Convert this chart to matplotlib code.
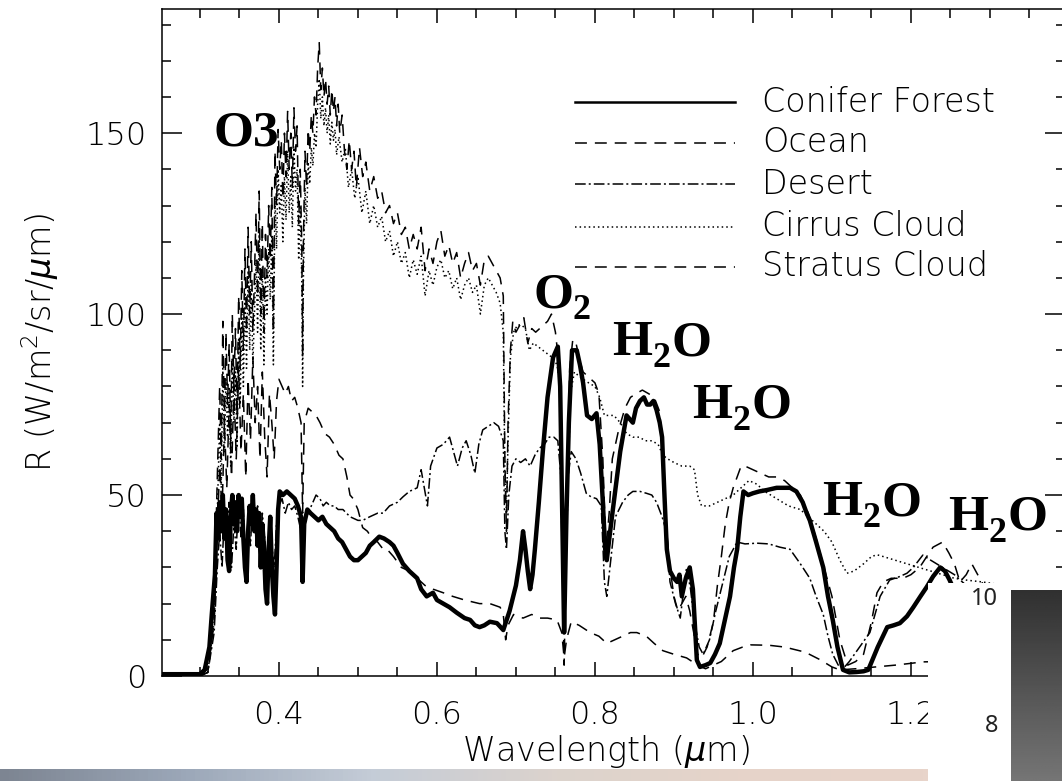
import numpy as np
import matplotlib
matplotlib.use('Agg')
import matplotlib.pyplot as plt
from matplotlib.patches import Rectangle
from matplotlib.lines import Line2D
from matplotlib.colors import LinearSegmentedColormap

plt.rcParams['font.family'] = ['DejaVu Sans']
plt.rcParams['font.weight'] = 'light'

# ---- values: (wavelength um, R W/m2/sr/um) ----
conifer = [
    (0.252, 0.5), (0.300, 0.5), (0.306, 1.7), (0.312, 8), (0.315, 17), (0.319, 28), (0.321, 45),
    (0.323, 38), (0.325, 48), (0.327, 40), (0.329, 50), (0.331, 38), (0.333, 46), (0.335, 32),
    (0.337, 29), (0.339, 44), (0.341, 50), (0.343, 42), (0.345, 48), (0.347, 40), (0.349, 50),
    (0.351, 44), (0.353, 49), (0.355, 38), (0.357, 30), (0.359, 26), (0.361, 40), (0.363, 47),
    (0.365, 42), (0.367, 50), (0.369, 40), (0.371, 46), (0.373, 36), (0.375, 45), (0.377, 30),
    (0.379, 42), (0.381, 36), (0.383, 24), (0.385, 20), (0.387, 35), (0.389, 44), (0.391, 30),
    (0.393, 22), (0.395, 17), (0.397, 30), (0.399, 46), (0.401, 51), (0.405, 50), (0.410, 51),
    (0.415, 50), (0.420, 49), (0.424, 47), (0.428, 44), (0.430, 26), (0.432, 42), (0.436, 46),
    (0.440, 45), (0.445, 44), (0.450, 43), (0.455, 44), (0.460, 42), (0.465, 41), (0.470, 40),
    (0.475, 38), (0.480, 37), (0.485, 35), (0.490, 33), (0.495, 32), (0.500, 32), (0.505, 33),
    (0.510, 34), (0.515, 36), (0.520, 37), (0.527, 38.5), (0.533, 38), (0.540, 37), (0.545, 36),
    (0.550, 34), (0.557, 31), (0.565, 29), (0.575, 27), (0.580, 24), (0.587, 22), (0.595, 23),
    (0.600, 21), (0.608, 20), (0.616, 19), (0.625, 17.5), (0.635, 16), (0.642, 15.5), (0.648, 14),
    (0.654, 13.5), (0.660, 14), (0.667, 15), (0.676, 14.6), (0.684, 12.7), (0.692, 18), (0.700, 25),
    (0.705, 32), (0.709, 40), (0.712, 35), (0.715, 29), (0.718, 24), (0.721, 28), (0.724, 35),
    (0.729, 48), (0.734, 62), (0.740, 77), (0.747, 88), (0.753, 91), (0.756, 80), (0.758, 53),
    (0.761, 12), (0.764, 45), (0.767, 70), (0.771, 90), (0.777, 90), (0.781, 86), (0.785, 81),
    (0.790, 72), (0.796, 71), (0.802, 72.6), (0.806, 64), (0.810, 48), (0.813, 35), (0.815, 32),
    (0.819, 39.5), (0.825, 50), (0.832, 62), (0.840, 72), (0.848, 70), (0.852, 74), (0.857, 76),
    (0.862, 77), (0.866, 75), (0.870, 75), (0.874, 76), (0.878, 73.5), (0.882, 70), (0.885, 66),
    (0.888, 50), (0.891, 35), (0.895, 29), (0.900, 27), (0.904, 26), (0.907, 28), (0.910, 22),
    (0.915, 27), (0.920, 30), (0.924, 24), (0.927, 12), (0.929, 4.4), (0.933, 2.5), (0.940, 3),
    (0.946, 3.6), (0.952, 6), (0.958, 9), (0.965, 16), (0.971, 22), (0.976, 30), (0.980, 35),
    (0.984, 44), (0.988, 51), (0.994, 50), (1.000, 50.5), (1.008, 51), (1.018, 51.4), (1.030, 52),
    (1.040, 52), (1.047, 52), (1.055, 51), (1.063, 48), (1.068, 45), (1.072, 43), (1.080, 37),
    (1.089, 30), (1.095, 22), (1.101, 15.5), (1.107, 8), (1.114, 1.7), (1.122, 1.0), (1.131, 1.1),
    (1.140, 1.3), (1.146, 1.7), (1.158, 8), (1.170, 13.5), (1.178, 14), (1.186, 14.6), (1.195, 16.5),
    (1.203, 19), (1.212, 22), (1.220, 24.6), (1.228, 27.5), (1.237, 30), (1.243, 29), (1.249, 26.5),
    (1.258, 22), (1.270, 18), (1.300, 15), (1.395, 15)]

ocean = [
    (0.252, 0), (0.300, 0), (0.310, 1), (0.318, 15), (0.322, 40), (0.325, 58), (0.328, 45),
    (0.331, 70), (0.334, 52), (0.337, 75), (0.340, 55), (0.343, 80), (0.346, 60), (0.349, 85),
    (0.352, 62), (0.355, 78), (0.358, 55), (0.361, 82), (0.364, 65), (0.367, 88), (0.370, 70),
    (0.373, 80), (0.376, 60), (0.379, 84), (0.382, 66), (0.385, 55), (0.388, 78), (0.391, 70),
    (0.394, 60), (0.397, 76), (0.400, 82), (0.404, 80), (0.408, 78), (0.412, 80), (0.416, 76),
    (0.420, 77), (0.424, 74), (0.428, 70), (0.430, 45), (0.432, 70), (0.437, 74), (0.442, 73),
    (0.447, 72), (0.452, 70), (0.458, 67), (0.464, 66), (0.470, 64), (0.476, 61), (0.481, 60),
    (0.486, 55), (0.490, 50), (0.494, 49), (0.500, 46), (0.506, 41), (0.512, 40), (0.518, 38),
    (0.525, 37), (0.532, 35), (0.537, 35), (0.545, 33), (0.555, 30), (0.565, 29), (0.575, 27),
    (0.585, 25), (0.595, 24), (0.608, 23), (0.620, 22), (0.635, 21), (0.654, 20), (0.667, 20),
    (0.680, 19), (0.684, 17), (0.687, 10), (0.690, 14), (0.697, 17), (0.709, 16), (0.720, 17),
    (0.730, 16), (0.740, 16), (0.752, 15.5), (0.758, 12), (0.761, 5), (0.764, 10), (0.770, 15),
    (0.780, 14), (0.794, 12), (0.805, 11), (0.815, 9), (0.825, 10), (0.835, 11), (0.845, 12),
    (0.853, 12), (0.865, 11), (0.875, 9), (0.886, 7), (0.900, 6), (0.916, 5), (0.930, 3),
    (0.940, 2), (0.950, 3), (0.960, 4), (0.975, 7), (0.987, 8), (0.997, 8.6), (1.020, 8.5),
    (1.040, 8), (1.066, 6.6), (1.085, 4.5), (1.100, 2.5), (1.110, 1.7), (1.130, 2), (1.155, 2.5),
    (1.180, 3), (1.200, 3.5), (1.215, 3.9), (1.240, 4), (1.300, 3), (1.395, 2)]

desert = [
    (0.252, 0), (0.300, 0), (0.310, 1), (0.318, 12), (0.322, 30), (0.325, 40), (0.328, 30),
    (0.331, 45), (0.334, 35), (0.337, 48), (0.340, 30), (0.343, 42), (0.346, 35), (0.349, 50),
    (0.352, 38), (0.355, 46), (0.358, 30), (0.361, 44), (0.364, 36), (0.367, 50), (0.370, 40),
    (0.373, 47), (0.376, 33), (0.379, 45), (0.382, 38), (0.385, 28), (0.388, 44), (0.391, 36),
    (0.394, 30), (0.397, 42), (0.400, 47), (0.404, 49), (0.408, 45), (0.412, 48), (0.416, 46),
    (0.420, 47), (0.424, 44), (0.428, 40), (0.430, 28), (0.432, 42), (0.436, 45), (0.439, 46),
    (0.443, 48), (0.447, 50), (0.452, 49), (0.456, 47), (0.460, 48), (0.465, 47), (0.470, 47),
    (0.475, 46), (0.481, 46), (0.490, 44), (0.500, 43), (0.506, 43), (0.515, 44), (0.525, 45),
    (0.532, 45), (0.540, 47), (0.550, 48), (0.557, 49.5), (0.565, 51), (0.575, 52), (0.580, 57),
    (0.584, 52), (0.588, 47), (0.592, 58), (0.600, 63), (0.608, 64), (0.616, 66), (0.621, 62),
    (0.626, 58), (0.632, 63), (0.637, 65), (0.643, 61), (0.648, 56), (0.653, 64), (0.658, 68),
    (0.665, 69), (0.672, 70), (0.678, 69), (0.684, 65), (0.686, 40), (0.688, 35), (0.691, 50),
    (0.695, 58), (0.700, 60), (0.706, 59), (0.712, 60), (0.718, 58), (0.724, 61), (0.730, 63),
    (0.736, 64), (0.742, 66), (0.748, 66), (0.753, 65), (0.757, 55), (0.760, 25), (0.763, 30),
    (0.766, 55), (0.770, 62), (0.776, 60), (0.782, 56), (0.789, 50.5), (0.795, 49.5), (0.802, 49),
    (0.808, 47), (0.812, 26), (0.815, 22), (0.819, 30), (0.826, 44), (0.835, 48), (0.842, 50),
    (0.848, 51), (0.857, 51), (0.865, 50.5), (0.872, 50), (0.878, 48), (0.885, 44), (0.891, 39.5),
    (0.895, 26), (0.902, 20), (0.908, 16), (0.913, 25), (0.916, 30), (0.921, 24), (0.926, 15),
    (0.932, 8), (0.937, 6), (0.945, 10), (0.953, 18), (0.962, 26), (0.970, 33), (0.980, 37),
    (0.990, 36.5), (1.005, 36.7), (1.020, 36.5), (1.034, 35.6), (1.047, 35), (1.060, 31),
    (1.072, 27), (1.080, 22), (1.089, 17), (1.095, 11), (1.101, 6), (1.108, 3), (1.114, 2),
    (1.122, 4), (1.135, 8), (1.148, 12), (1.161, 22), (1.173, 26.5), (1.186, 27.5), (1.195, 28.4),
    (1.203, 30), (1.215, 33.4), (1.225, 32), (1.240, 30), (1.255, 28), (1.270, 25), (1.300, 20),
    (1.395, 18)]

cirrus = [
    (0.252, 0), (0.300, 0), (0.310, 1), (0.318, 15), (0.322, 45), (0.325, 70), (0.327, 52),
    (0.329, 85), (0.331, 62), (0.333, 82), (0.335, 66), (0.337, 80), (0.339, 58), (0.341, 88),
    (0.343, 70), (0.345, 84), (0.347, 63), (0.349, 93), (0.351, 75), (0.353, 100), (0.355, 80),
    (0.357, 106), (0.359, 85), (0.361, 112), (0.363, 90), (0.365, 108), (0.367, 86), (0.369, 100),
    (0.371, 115), (0.373, 95), (0.375, 122), (0.377, 90), (0.379, 113), (0.381, 86), (0.383, 110),
    (0.385, 100), (0.387, 118), (0.389, 104), (0.391, 122), (0.393, 86), (0.395, 132), (0.397, 118),
    (0.399, 140), (0.401, 128), (0.403, 136), (0.405, 120), (0.407, 138), (0.409, 126), (0.411, 145),
    (0.413, 128), (0.415, 138), (0.417, 124), (0.419, 146), (0.421, 134), (0.423, 140), (0.425, 115),
    (0.427, 130), (0.429, 108), (0.430, 80), (0.431, 110), (0.433, 135), (0.435, 125), (0.437, 142),
    (0.439, 136), (0.441, 146), (0.443, 141), (0.445, 150), (0.447, 146), (0.449, 158), (0.451, 165),
    (0.453, 154), (0.455, 160), (0.457, 152), (0.459, 157), (0.461, 150), (0.463, 155), (0.465, 147),
    (0.467, 153), (0.469, 148), (0.471, 151), (0.473, 144), (0.476, 149), (0.480, 142), (0.484, 146),
    (0.488, 135), (0.492, 140), (0.496, 132), (0.500, 138), (0.505, 128), (0.510, 134), (0.515, 125),
    (0.520, 130), (0.525, 124), (0.530, 127), (0.535, 120), (0.540, 123), (0.545, 116), (0.550, 120),
    (0.555, 114), (0.560, 117), (0.565, 110), (0.570, 115), (0.575, 111), (0.580, 116), (0.585, 105),
    (0.590, 112), (0.595, 108), (0.600, 113), (0.605, 115), (0.610, 110), (0.615, 112), (0.620, 107),
    (0.625, 110), (0.630, 104), (0.635, 108), (0.640, 110), (0.645, 106), (0.650, 108), (0.655, 100),
    (0.660, 108), (0.665, 110), (0.670, 108), (0.675, 106), (0.680, 103), (0.684, 95), (0.686, 55),
    (0.688, 45), (0.690, 65), (0.693, 88), (0.697, 95), (0.702, 97), (0.707, 97), (0.712, 96),
    (0.717, 90), (0.722, 92), (0.728, 91), (0.734, 90), (0.740, 89), (0.746, 88), (0.752, 86),
    (0.756, 80), (0.759, 40), (0.762, 20), (0.765, 45), (0.769, 78), (0.774, 84), (0.779, 83),
    (0.785, 82), (0.792, 81), (0.800, 80), (0.806, 77), (0.812, 72), (0.818, 72), (0.824, 72),
    (0.832, 70), (0.840, 67), (0.848, 66), (0.856, 66), (0.864, 65), (0.872, 65), (0.880, 64),
    (0.886, 61), (0.892, 60), (0.900, 59), (0.910, 58), (0.920, 58), (0.926, 57), (0.930, 50),
    (0.935, 47), (0.945, 47), (0.955, 48), (0.965, 49), (0.975, 50), (0.985, 52), (0.995, 54),
    (1.005, 53), (1.015, 51), (1.030, 49), (1.045, 47), (1.060, 46), (1.070, 44), (1.080, 42),
    (1.090, 40), (1.100, 37), (1.110, 32), (1.119, 28.4), (1.128, 29), (1.140, 31), (1.150, 33),
    (1.157, 33.5), (1.165, 33), (1.180, 32), (1.195, 31), (1.210, 30), (1.225, 29), (1.240, 28),
    (1.255, 27), (1.270, 26.5), (1.290, 26), (1.320, 25), (1.395, 24)]

stratus = [
    (0.252, 0), (0.300, 0), (0.310, 2), (0.318, 20), (0.322, 55), (0.325, 80), (0.327, 60),
    (0.329, 98), (0.331, 70), (0.333, 95), (0.335, 75), (0.337, 92), (0.339, 65), (0.341, 100),
    (0.343, 80), (0.345, 96), (0.347, 72), (0.349, 105), (0.351, 85), (0.353, 112), (0.355, 90),
    (0.357, 118), (0.359, 95), (0.361, 124), (0.363, 100), (0.365, 120), (0.367, 95), (0.369, 110),
    (0.371, 128), (0.373, 105), (0.375, 134), (0.377, 100), (0.379, 125), (0.381, 95), (0.383, 122),
    (0.385, 110), (0.387, 130), (0.389, 115), (0.391, 135), (0.393, 95), (0.395, 145), (0.397, 130),
    (0.399, 151), (0.401, 140), (0.403, 148), (0.405, 132), (0.407, 150), (0.409, 138), (0.411, 156),
    (0.413, 140), (0.415, 150), (0.417, 135), (0.419, 157), (0.421, 145), (0.423, 152), (0.425, 125),
    (0.427, 140), (0.429, 118), (0.430, 88), (0.431, 120), (0.433, 145), (0.435, 135), (0.437, 151),
    (0.439, 145), (0.441, 155), (0.443, 150), (0.445, 160), (0.447, 155), (0.449, 168), (0.451, 175),
    (0.453, 162), (0.455, 168), (0.457, 160), (0.459, 165), (0.461, 158), (0.463, 163), (0.465, 155),
    (0.467, 162), (0.469, 156), (0.471, 160), (0.473, 152), (0.475, 158), (0.477, 150), (0.480, 155),
    (0.483, 145), (0.486, 140), (0.489, 148), (0.492, 140), (0.495, 145), (0.498, 135), (0.502, 146),
    (0.506, 138), (0.510, 142), (0.515, 134), (0.520, 138), (0.525, 132), (0.530, 134), (0.535, 128),
    (0.540, 130), (0.545, 125), (0.550, 128), (0.555, 122), (0.560, 124), (0.565, 118), (0.570, 122),
    (0.575, 118), (0.580, 124), (0.585, 112), (0.590, 118), (0.595, 114), (0.600, 120), (0.605, 123),
    (0.610, 116), (0.615, 119), (0.620, 114), (0.625, 117), (0.630, 110), (0.635, 114), (0.640, 117),
    (0.645, 112), (0.650, 114), (0.655, 108), (0.660, 115), (0.665, 116), (0.670, 114), (0.675, 112),
    (0.680, 110), (0.684, 105), (0.686, 60), (0.688, 40), (0.690, 70), (0.693, 90), (0.696, 98),
    (0.700, 95), (0.705, 97), (0.710, 99), (0.715, 92), (0.720, 96), (0.725, 95), (0.730, 96),
    (0.735, 97), (0.740, 98), (0.745, 100), (0.750, 95), (0.755, 85), (0.758, 40), (0.761, 3),
    (0.764, 40), (0.768, 85), (0.772, 93), (0.776, 92), (0.780, 88), (0.785, 84), (0.790, 83),
    (0.795, 82), (0.800, 81), (0.805, 78), (0.810, 60), (0.814, 35), (0.818, 45), (0.822, 60),
    (0.830, 68), (0.838, 74), (0.845, 77), (0.852, 78), (0.860, 79), (0.868, 78), (0.875, 77),
    (0.882, 73), (0.887, 60), (0.890, 42), (0.895, 30), (0.900, 22), (0.905, 18), (0.910, 20),
    (0.915, 22), (0.920, 18), (0.925, 12), (0.930, 6), (0.935, 5), (0.942, 8), (0.950, 15),
    (0.955, 25), (0.960, 33), (0.965, 42), (0.970, 48), (0.975, 52), (0.980, 55), (0.985, 58),
    (0.990, 58), (1.000, 57), (1.010, 56), (1.020, 55), (1.030, 55), (1.040, 54), (1.050, 52),
    (1.060, 50), (1.070, 45), (1.080, 38), (1.090, 30), (1.100, 22), (1.110, 10), (1.120, 3),
    (1.130, 4), (1.140, 6), (1.150, 15), (1.157, 23), (1.165, 26), (1.175, 27), (1.190, 27),
    (1.200, 28), (1.211, 30), (1.220, 33), (1.228, 35.6), (1.240, 37), (1.248, 34), (1.255, 31),
    (1.262, 26), (1.270, 28), (1.277, 31), (1.287, 27), (1.300, 22), (1.330, 15), (1.395, 12)]

labels = ['Conifer Forest', 'Ocean', 'Desert', 'Cirrus Cloud', 'Stratus Cloud']
series = [conifer, ocean, desert, cirrus, stratus]

# absorption band labels: (main, subscript, tail, left px, baseline px)
bands = [('O3', '', '', 213, 146), ('O', '2', '', 533, 307), ('H', '2', 'O', 612, 355),
         ('H', '2', 'O', 692, 418), ('H', '2', 'O', 822, 515), ('H', '2', 'O', 948, 530)]

W, H = 1062, 781
def fx(px):
    return px / W
def fy(py):
    return 1 - py / H

styles = [dict(lw=3.2, ls='-'),
          dict(lw=1.1, dashes=(7.8, 5.2)),
          dict(lw=1.1, dashes=(7, 2, 1.3, 2)),
          dict(lw=1.1, dashes=(1, 2)),
          dict(lw=1.1, dashes=(7.8, 5.2))]
zorders = [4, 3, 3, 3, 3]

fig = plt.figure(figsize=(W / 100, H / 100), dpi=100)
ax = fig.add_axes([fx(162), fy(676), (1065 - 162) / W, (676 - 9) / H])

for data, st, z in zip(series, styles, zorders):
    wl = [p[0] for p in data]
    r = [p[1] for p in data]
    ax.plot(wl, r, color='k', zorder=z, **st)

ax.set_xlim(0.252, 1.395)
ax.set_ylim(0, 184.3)
ax.set_xticks([0.4, 0.6, 0.8, 1.0, 1.2])
ax.set_xticklabels(['0.4', '0.6', '0.8', '1.0', '1.2'])
ax.set_xticks(np.arange(0.30, 1.40, 0.05), minor=True)
ax.set_yticks([0, 50, 100, 150])
ax.set_yticks(np.arange(0, 185, 10), minor=True)
ax.tick_params(which='both', direction='in', top=True, right=True, width=1.1, labelsize=23)
ax.tick_params(axis='x', which='major', length=10, pad=17)
ax.tick_params(axis='y', which='major', length=14.4, pad=11)
ax.tick_params(which='minor', length=6.5)
for s in ax.spines.values():
    s.set_linewidth(1.1)

fig.text(fx(606), fy(752), r'Wavelength ($\mu$m)', fontsize=24, ha='center', va='center')
fig.text(fx(40), fy(343), r'R (W/m$^2$/sr/$\mu$m)', fontsize=24, ha='center', va='center',
         rotation=90)

# legend drawn by hand at the original spot
rows = [102, 143, 184, 227, 267]
for lab, st, yy in zip(labels, styles, rows):
    lst = dict(st)
    if lab == 'Conifer Forest':
        lst['lw'] = 1.8
    fig.add_artist(Line2D([fx(575), fx(735)], [fy(yy), fy(yy)], color='k',
                          transform=fig.transFigure, **lst))
    fig.text(fx(762), fy(yy), lab, fontsize=24, ha='left', va='center')

# bold serif band names, subscript placed by hand
serif = dict(family='Liberation Serif', weight='bold', ha='left', va='baseline')
for main, sub, tail, x0, y0 in bands:
    fig.text(fx(x0), fy(y0), main, fontsize=37, **serif)
    if sub:
        fig.text(fx(x0 + 40), fy(y0 + 12), sub, fontsize=26, **serif)
    if tail:
        fig.text(fx(x0 + 59), fy(y0), tail, fontsize=37, **serif)

# pasted slide pieces: white patch, grey gradient bar, coloured strip
fig.add_artist(Rectangle((fx(928), 0), 1 - fx(928), fy(583), transform=fig.transFigure,
                         facecolor='white', edgecolor='none', zorder=5))
gax = fig.add_axes([fx(1011), 0, 1 - fx(1011), fy(590)], zorder=6)
gax.imshow(np.linspace(0.19, 0.46, 100).reshape(-1, 1), cmap='gray', vmin=0, vmax=1,
           aspect='auto')
gax.axis('off')
fig.text(fx(998), fy(599), '10', fontsize=17, family='Noto Sans', weight='normal',
         color='#222222', ha='right', va='center', zorder=7)
fig.text(fx(998), fy(726), '8', fontsize=17, family='Noto Sans', weight='normal',
         color='#222222', ha='right', va='center', zorder=7)

strip = LinearSegmentedColormap.from_list('strip', ['#7d8592', '#9ca8b9', '#c4ccd7',
                                                    '#dcd3cd', '#e6d3c9', '#e8d4ca'])
sax = fig.add_axes([0, 0, fx(928), fy(769)], zorder=6)
sax.imshow(np.linspace(0, 1, 200).reshape(1, -1), cmap=strip, aspect='auto')
sax.axis('off')

fig.savefig('out.png', dpi=100)
